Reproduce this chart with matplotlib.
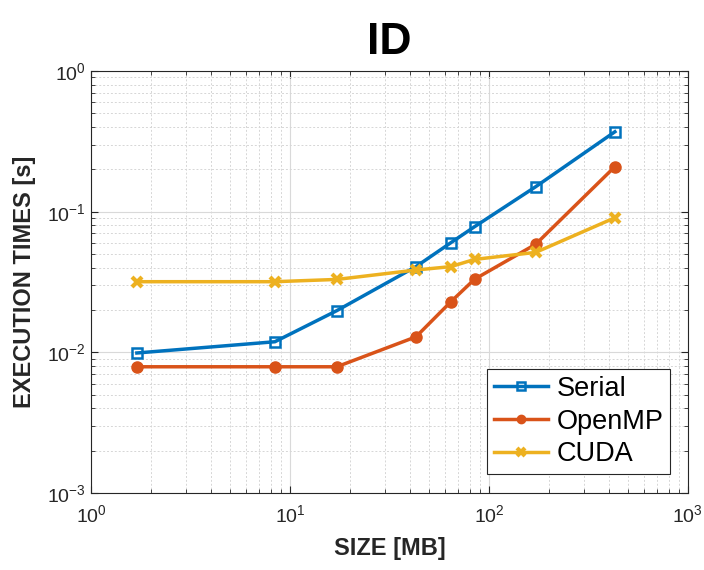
import matplotlib
matplotlib.use("Agg")
import matplotlib.pyplot as plt
import numpy as np

sizes = [1.7, 8.4, 17.2, 43.0, 64.4, 84.7, 172.0, 430.0]
serial = [0.0099, 0.0119, 0.0198, 0.0407, 0.0602, 0.0782, 0.1506, 0.370]
openmp = [0.0079, 0.0079, 0.0079, 0.0129, 0.0229, 0.0331, 0.0587, 0.209]
cuda = [0.0318, 0.0318, 0.0330, 0.0385, 0.0407, 0.0458, 0.0514, 0.0906]

plt.rcParams['font.family'] = ['Liberation Sans', 'DejaVu Sans']

fig = plt.figure(figsize=(7.04, 5.70), dpi=100)
ax = fig.add_axes([0.1293, 0.135, 0.8477, 0.7404])

ax.plot(sizes, serial, color='#0072BD', lw=2.5, marker='s', ms=7,
        mfc='none', mew=1.8, label='Serial')
ax.plot(sizes, openmp, color='#D95319', lw=2.5, marker='o', ms=8,
        mfc='#D95319', label='OpenMP')
ax.plot(sizes, cuda, color='#EDB120', lw=2.5, marker='x', ms=7,
        mew=3, label='CUDA')

ax.set_xscale('log')
ax.set_yscale('log')
ax.set_xlim(1, 1000)
ax.set_ylim(1e-3, 1)

ax.grid(True, which='major', color='#d9d9d9', lw=0.8, ls='-')
ax.grid(True, which='minor', color='#d6d6d6', lw=0.7, ls=(0, (2, 2)))
ax.set_axisbelow(True)

ax.tick_params(which='both', direction='in', top=True, right=True,
               colors='#262626', labelsize=14)
ax.tick_params(which='major', length=5, width=0.8)
ax.tick_params(which='minor', length=3, width=0.6)
for sp in ax.spines.values():
    sp.set_color('#262626')
    sp.set_linewidth(0.8)

ax.tick_params(axis='x', pad=8)
ax.set_xlabel('SIZE [MB]', fontsize=17, fontweight='bold', color='#262626', labelpad=8)
ax.set_ylabel('EXECUTION TIMES [s]', fontsize=17, fontweight='bold', color='#262626', labelpad=8)
ax.set_title('ID', fontsize=32, fontweight='bold', pad=12)

leg = ax.legend(loc='lower right', fontsize=19.5, fancybox=False, framealpha=1,
                edgecolor='#262626', borderaxespad=0.0, bbox_to_anchor=(0.97, 0.045),
                handlelength=2.0, handletextpad=0.3, borderpad=0.25, labelspacing=0.25,
                markerscale=0.75)
leg.get_frame().set_linewidth(0.8)

fig.savefig('out.png', dpi=100)
